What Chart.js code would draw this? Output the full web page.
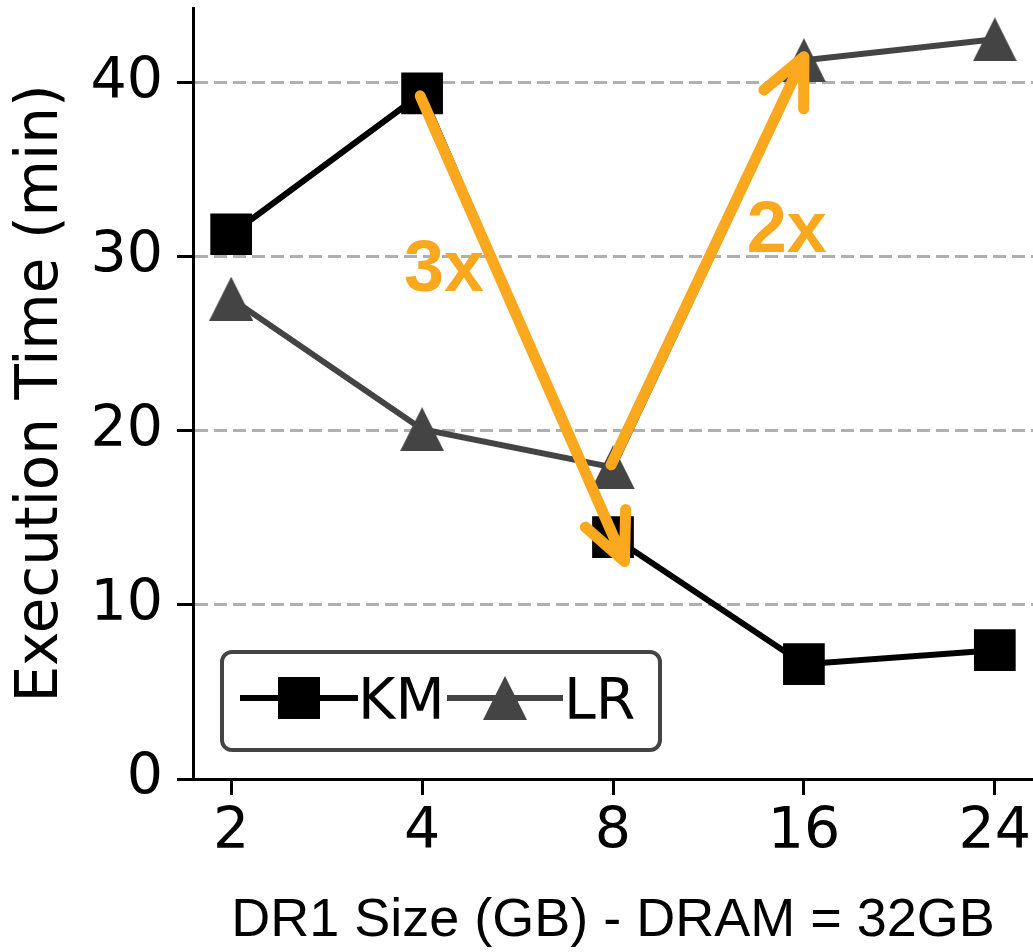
<!DOCTYPE html>
<html>
<head>
<meta charset="utf-8">
<script src="https://cdn.jsdelivr.net/npm/chart.js@4.4.1/dist/chart.umd.min.js"></script>
<style>
  html, body { margin: 0; padding: 0; background: #fff; }
</style>
</head>
<body>
<canvas id="chart" width="1033" height="952"></canvas>
<script>
// ─── data ─────────────────────────────────────
const sizes   = ["2", "4", "8", "16", "24"];
const kmTimes = [31.3, 39.4, 13.9, 6.6, 7.4];
const lrTimes = [27.6, 20.1, 17.9, 41.3, 42.5];
const yTicks  = [0, 10, 20, 30, 40];

// speed-up arrows, in data units (x = index into sizes)
const arrowFrom = [[0.99, 39.25], [1.99, 18.05]];
const arrowTo   = [[2.06, 12.5], [3.0, 41.5]];
const arrowText = ["3x", "2x"];
const textAt    = [[1.115, 29.2], [2.91, 31.4]];

const ORANGE = "#FAA81E";
const KM_COLOR = "#000000";
const LR_COLOR = "#444444";

// matplotlib-like "^" marker (as wide as it is tall)
function triMarker(size, color) {
  const c = document.createElement("canvas");
  c.width = size; c.height = size;
  const g = c.getContext("2d");
  g.fillStyle = color;
  g.beginPath();
  g.moveTo(size / 2, 0);
  g.lineTo(size, size);
  g.lineTo(0, size);
  g.closePath();
  g.fill();
  return c;
}
const triangle = triMarker(44, LR_COLOR);

// no automatic label padding, the plot box is fixed
function noPad(s) {
  s.paddingLeft = 0; s.paddingRight = 0;
  s.paddingTop = 0; s.paddingBottom = 0;
}

// ─── arrows + labels ─────────────────
const arrowPlugin = {
  id: "arrows",
  afterDatasetsDraw(chart) {
    const { ctx, scales: { x, y } } = chart;
    ctx.save();
    ctx.strokeStyle = ORANGE;
    ctx.lineWidth = 11;
    ctx.lineCap = "round";
    ctx.lineJoin = "round";
    arrowFrom.forEach((from, i) => {
      const x1 = x.getPixelForValue(from[0]), y1 = y.getPixelForValue(from[1]);
      const x2 = x.getPixelForValue(arrowTo[i][0]), y2 = y.getPixelForValue(arrowTo[i][1]);
      const ang = Math.atan2(y1 - y2, x1 - x2);
      const head = 52, spread = 25 * Math.PI / 180;
      ctx.beginPath();
      ctx.moveTo(x1, y1);
      ctx.lineTo(x2, y2);
      ctx.moveTo(x2 + head * Math.cos(ang + spread), y2 + head * Math.sin(ang + spread));
      ctx.lineTo(x2, y2);
      ctx.lineTo(x2 + head * Math.cos(ang - spread), y2 + head * Math.sin(ang - spread));
      ctx.stroke();
    });
    ctx.fillStyle = ORANGE;
    ctx.font = 'bold 72px "Liberation Sans", Arial, sans-serif';
    ctx.textAlign = "center";
    ctx.textBaseline = "middle";
    arrowText.forEach((t, i) => {
      ctx.fillText(t, x.getPixelForValue(textAt[i][0]), y.getPixelForValue(textAt[i][1]));
    });
    ctx.restore();
  }
};

// ─── legend box, matplotlib style ─────────────────
const legendPlugin = {
  id: "mplLegend",
  afterDraw(chart) {
    const ctx = chart.ctx;
    ctx.save();
    ctx.lineWidth = 4;
    ctx.strokeStyle = "#444";
    ctx.fillStyle = "#fff";
    ctx.beginPath();
    ctx.roundRect(222, 652, 438, 98, 10);
    ctx.fill();
    ctx.stroke();

    ctx.lineWidth = 6;
    ctx.lineCap = "butt";
    // KM
    ctx.strokeStyle = KM_COLOR;
    ctx.beginPath(); ctx.moveTo(240, 698); ctx.lineTo(358, 698); ctx.stroke();
    ctx.fillStyle = KM_COLOR;
    ctx.fillRect(278, 677, 42, 42);
    // LR
    ctx.strokeStyle = LR_COLOR;
    ctx.beginPath(); ctx.moveTo(447, 698); ctx.lineTo(563, 698); ctx.stroke();
    ctx.drawImage(triangle, 505 - 22, 698 - 22);

    ctx.fillStyle = "#000";
    ctx.font = '57px "DejaVu Sans"';
    ctx.textAlign = "left";
    ctx.textBaseline = "alphabetic";
    ctx.fillText(chart.data.datasets[0].label, 358, 719);
    ctx.fillText(chart.data.datasets[1].label, 564, 719);
    ctx.restore();
  }
};

const tickFont = { family: "DejaVu Sans", size: 57, lineHeight: 1 };

new Chart(document.getElementById("chart"), {
  type: "line",
  data: {
    datasets: [
      {
        label: "KM",
        data: kmTimes.map((v, i) => ({ x: i, y: v })),
        borderColor: KM_COLOR,
        backgroundColor: KM_COLOR,
        borderWidth: 6,
        pointStyle: "rect",
        pointRadius: 29.5,
        pointBorderWidth: 0,
        pointBackgroundColor: KM_COLOR,
        clip: false,
        order: 2
      },
      {
        label: "LR",
        data: lrTimes.map((v, i) => ({ x: i, y: v })),
        borderColor: LR_COLOR,
        backgroundColor: LR_COLOR,
        borderWidth: 6,
        pointStyle: triangle,
        pointRadius: 22,
        pointBorderWidth: 0,
        clip: false,
        order: 1
      }
    ]
  },
  options: {
    responsive: false,
    animation: false,
    devicePixelRatio: 1,
    layout: { autoPadding: false, padding: { top: 8, right: 0, left: 0, bottom: 0 } },
    plugins: { legend: { display: false }, tooltip: { enabled: false } },
    elements: { line: { tension: 0 } },
    scales: {
      x: {
        type: "linear",
        min: -0.2,
        max: 4.2,
        afterFit: s => { s.height = 173; noPad(s); },
        ticks: {
          stepSize: 1,
          includeBounds: false,
          autoSkip: false,
          maxRotation: 0,
          padding: 10,
          color: "#000",
          font: tickFont,
          callback: v => sizes[v]
        },
        grid: { drawOnChartArea: false, drawTicks: true, tickLength: 16, tickWidth: 3, tickColor: "#000" },
        border: { display: true, color: "#000", width: 3 },
        title: {
          display: true,
          text: "DR1 Size (GB) - DRAM = 32GB",
          color: "#000",
          font: { family: "Liberation Sans", size: 54, lineHeight: 1 },
          padding: { top: 0, bottom: 4 }
        }
      },
      y: {
        type: "linear",
        min: 0,
        max: 44.3,
        afterFit: s => { s.width = 193; noPad(s); },
        afterBuildTicks: s => { s.ticks = yTicks.map(v => ({ value: v })); },
        ticks: { stepSize: 10, includeBounds: false, padding: 14, color: "#000", font: tickFont },
        grid: {
          color: "#b0b0b0",
          lineWidth: 3,
          borderDash: [13, 6],
          drawTicks: true,
          tickLength: 16,
          tickWidth: 3,
          tickColor: "#000",
          tickBorderDash: []
        },
        border: { display: true, color: "#000", width: 3, dash: [13, 6] },
        title: {
          display: true,
          text: "Execution Time (min)",
          color: "#000",
          font: { family: "DejaVu Sans", size: 58, lineHeight: 1 },
          padding: { top: 13, bottom: 0 }
        }
      }
    }
  },
  plugins: [arrowPlugin, legendPlugin]
});
</script>
</body>
</html>
